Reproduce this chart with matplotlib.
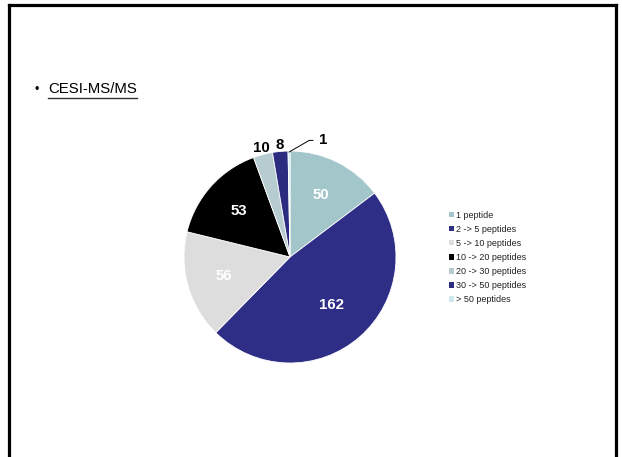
import matplotlib.pyplot as plt
import numpy as np
from matplotlib.lines import Line2D

plt.rcParams['font.family'] = ['Liberation Sans', 'DejaVu Sans']

# peptide count classes and number of proteins in each
categories = ['1 peptide', '2 -> 5 peptides', '5 -> 10 peptides', '10 -> 20 peptides',
              '20 -> 30 peptides', '30 -> 50 peptides', '> 50 peptides']
counts = [50, 162, 56, 53, 10, 8, 1]
colors = ['#a3c6ca', '#2e2e87', '#dddddd', '#000000', '#b7ccd1', '#2b2b80', '#cde7ec']
label_colors = ['white', 'white', 'white', 'white', 'black', 'black', 'black']

fig = plt.figure(figsize=(6.22, 4.57), dpi=100)
fig.patch.set_facecolor('white')

# slide frame (left, top, right edges)
W, H = 622.0, 457.0
fig.add_artist(Line2D([8.5 / W, 8.5 / W], [0, 1 - 4.5 / H], color='black', lw=2.3,
                      transform=fig.transFigure, solid_capstyle='projecting'))
fig.add_artist(Line2D([8.5 / W, 616 / W], [1 - 4.5 / H, 1 - 4.5 / H], color='black', lw=2.3,
                      transform=fig.transFigure, solid_capstyle='projecting'))
fig.add_artist(Line2D([616 / W, 616 / W], [0, 1 - 4.5 / H], color='black', lw=2.3,
                      transform=fig.transFigure, solid_capstyle='projecting'))

# bullet title
fig.text(37 / W, 1 - 89.5 / H, '\u2022', fontsize=9, va='center', ha='center')
fig.text(48 / W, 1 - 89 / H, 'CESI-MS/MS', fontsize=10.8, va='center', ha='left')
fig.add_artist(Line2D([48 / W, 137 / W], [1 - 97.5 / H, 1 - 97.5 / H], color='#333333', lw=1.0,
                      transform=fig.transFigure))

# pie
cx, cy, r = 290, 257, 106
ax = fig.add_axes([(cx - r) / W, (H - cy - r) / H, 2 * r / W, 2 * r / H])
wedges, _ = ax.pie(counts, colors=colors, startangle=90, counterclock=False,
                   wedgeprops=dict(edgecolor='white', linewidth=0.6))
ax.set_xlim(-1, 1)
ax.set_ylim(-1, 1)
ax.axis('off')

for i, (w, n) in enumerate(zip(wedges, counts)):
    mid = np.deg2rad((w.theta1 + w.theta2) / 2)
    if i < 4:
        d = 0.65 if i != 1 else 0.6
        ax.text(d * np.cos(mid), d * np.sin(mid), str(n), color=label_colors[i],
                fontsize=10.8, fontweight='bold', ha='center', va='center')
    elif i < 6:
        d = 1.06
        ax.text(d * np.cos(mid), d * np.sin(mid), str(n), color=label_colors[i],
                fontsize=10.8, fontweight='bold', ha='center', va='center')
    else:
        x0, y0 = 0.99 * np.cos(mid), 0.99 * np.sin(mid)
        ax.annotate(str(n), xy=(x0, y0), xytext=(0.27, 1.1), fontsize=10.8,
                    fontweight='bold', ha='left', va='center', annotation_clip=False,
                    arrowprops=dict(arrowstyle='-', color='black', lw=0.7,
                                    connectionstyle='angle,angleA=0,angleB=30,rad=0',
                                    shrinkA=2, shrinkB=0))

leg = fig.legend(wedges, categories, loc='center left',
                 bbox_to_anchor=(449 / W, 1 - 257.5 / H), frameon=False,
                 fontsize=6.5, handlelength=0.55, handleheight=0.55,
                 handletextpad=0.25, labelspacing=0.56, borderpad=0, borderaxespad=0)
for t in leg.get_texts():
    t.set_color('#222222')
for h in leg.legend_handles:
    h.set_edgecolor('none')

fig.savefig('out.png', dpi=100)
